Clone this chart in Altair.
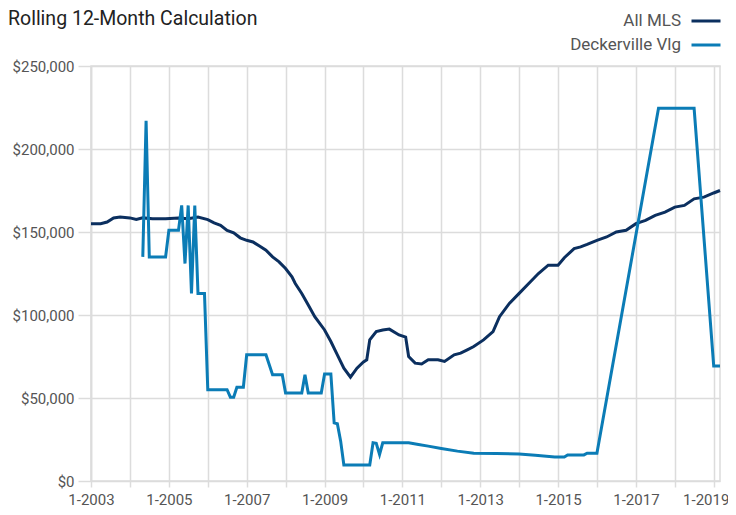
import altair as alt
import pandas as pd

# ---- data (values in dollars) ----
title_text = "Rolling 12-Month Calculation"

mls_dates = [
    "2003-01", "2003-04", "2003-06", "2003-08", "2003-10", "2004-01", "2004-03", "2004-05",
    "2004-08", "2004-12", "2005-04", "2005-07", "2005-10", "2006-01", "2006-03", "2006-05",
    "2006-07", "2006-09", "2006-11", "2007-01", "2007-03", "2007-05", "2007-07", "2007-09",
    "2007-11", "2008-01", "2008-03", "2008-04", "2008-06", "2008-08", "2008-10", "2009-01",
    "2009-03", "2009-05", "2009-07", "2009-09", "2009-11", "2010-01", "2010-02", "2010-03",
    "2010-05", "2010-07", "2010-09", "2010-12", "2011-02", "2011-03", "2011-05", "2011-07",
    "2011-09", "2011-12", "2012-02", "2012-05", "2012-07", "2012-09", "2012-11", "2013-02",
    "2013-05", "2013-07", "2013-10", "2014-01", "2014-04", "2014-07", "2014-10", "2015-01",
    "2015-03", "2015-06", "2015-08", "2015-10", "2016-01", "2016-04", "2016-07", "2016-10",
    "2017-01", "2017-04", "2017-07", "2017-10", "2018-01", "2018-04", "2018-07", "2018-10",
    "2019-01", "2019-03",
]
mls_values = [
    155000, 155000, 156000, 158500, 159000, 158500, 157500, 158500,
    158000, 158000, 158500, 158000, 159000, 157500, 155500, 154000,
    151000, 149500, 146500, 145000, 144000, 141500, 139000, 135000,
    132000, 128000, 123000, 119000, 113000, 106000, 99000, 91000,
    84000, 76000, 68000, 62600, 68000, 71700, 73000, 85000,
    90000, 91000, 91500, 88000, 86700, 75000, 71000, 70500,
    73000, 73000, 72000, 76000, 77000, 79000, 81000, 85000,
    90000, 99000, 107000, 113000, 119000, 125000, 130000, 130000,
    134500, 140000, 141000, 142500, 145000, 147000, 150000, 151000,
    155000, 157000, 160000, 162000, 165000, 166000, 170000, 171000,
    173500, 175000,
]

dv_dates = [
    "2004-05", "2004-06", "2004-07", "2004-12", "2005-01", "2005-04", "2005-05", "2005-06",
    "2005-07", "2005-08", "2005-09", "2005-10", "2005-12", "2006-01", "2006-07", "2006-08",
    "2006-09", "2006-10", "2006-12", "2007-01", "2007-07", "2007-09", "2007-12", "2008-01",
    "2008-06", "2008-07", "2008-08", "2008-12", "2009-01", "2009-03", "2009-04", "2009-05",
    "2009-06", "2009-07", "2010-03", "2010-04", "2010-05", "2010-06", "2010-07", "2011-03",
    "2011-06", "2011-09", "2012-01", "2012-06", "2012-11", "2013-06", "2014-01", "2014-06",
    "2014-12", "2015-03", "2015-04", "2015-09", "2015-10", "2016-01", "2017-08", "2018-07",
    "2019-01", "2019-03",
]
dv_values = [
    135000, 217000, 135000, 135000, 151000, 151000, 166000, 131000,
    166000, 113000, 166000, 113000, 113000, 55000, 55000, 50500,
    50500, 56500, 56500, 76000, 76000, 64000, 64000, 53000,
    53000, 64000, 53000, 53000, 64500, 64500, 35000, 34500,
    24000, 9600, 9600, 23000, 22700, 16000, 23000, 23000,
    22000, 21000, 19600, 18000, 16700, 16500, 16300, 15500,
    14500, 14500, 15700, 15700, 16700, 16700, 224500, 224500,
    69300, 69300,
]

series_names = ["All MLS", "Deckerville Vlg"]
series_colors = ["#0b2f5f", "#0b7cb6"]
y_ticks = [0, 50000, 100000, 150000, 200000, 250000]
x_ticks = [f"{y}-01-01" for y in range(2003, 2020)]

df = pd.concat([
    pd.DataFrame({"date": pd.to_datetime(mls_dates), "value": mls_values, "series": series_names[0]}),
    pd.DataFrame({"date": pd.to_datetime(dv_dates), "value": dv_values, "series": series_names[1]}),
])

FONT = "Roboto"

lines = alt.Chart(df).mark_line(strokeWidth=3, interpolate="linear").encode(
    x=alt.X(
        "date:T",
        title=None,
        scale=alt.Scale(domain=["2003-01-01", "2019-03-01"]),
        axis=alt.Axis(
            values=x_ticks,
            labelExpr="year(datum.value) % 2 == 1 ? '1-' + year(datum.value) : ''",
            grid=True,
            gridColor="#dcdcdc",
            gridWidth=1.5,
            domain=False,
            tickColor="#dcdcdc",
            tickWidth=1.5,
            tickSize=6,
            labelFontSize=15,
            labelColor="#555555",
            labelFont=FONT,
            labelPadding=5,
            labelOverlap=False,
            labelFlush=False,
            labelOffset={"condition": {"test": "year(datum.value) == 2019", "value": -8}, "value": 0},
        ),
    ),
    y=alt.Y(
        "value:Q",
        title=None,
        scale=alt.Scale(domain=[0, 250000]),
        axis=alt.Axis(
            values=y_ticks,
            format="$,.0f",
            grid=True,
            gridColor="#dcdcdc",
            gridWidth=1.5,
            domainColor="#dcdcdc",
            domainWidth=1.5,
            tickColor="#dcdcdc",
            tickWidth=1.5,
            tickSize=13,
            labelFontSize=15,
            labelColor="#555555",
            labelFont=FONT,
            labelPadding=4,
        ),
    ),
    color=alt.Color(
        "series:N",
        scale=alt.Scale(domain=series_names, range=series_colors),
        legend=alt.Legend(
            title=None,
            orient="none",
            legendX=599,
            legendY=-61,
            symbolType="stroke",
            symbolStrokeWidth=3,
            symbolSize=841,
            labelAlign="right",
            labelOffset={"expr": "-41"},
            labelFontSize=17,
            labelFont=FONT,
            labelColor="#555555",
            rowPadding={"expr": "-8"},
            padding=0,
        ),
    ),
)

title = alt.Chart(pd.DataFrame({"t": [title_text]})).mark_text(
    align="left",
    baseline="alphabetic",
    fontSize=19.5,
    font=FONT,
    color="#222222",
).encode(
    text="t:N",
    x=alt.value(-83),
    y=alt.value(-41),
)

chart = alt.layer(lines, title).properties(
    width=629,
    height=415,
    autosize=alt.AutoSizeParams(type="none"),
    padding={"left": 83, "top": 58, "right": 8, "bottom": 26},
).configure_view(
    stroke="#dcdcdc",
    strokeWidth=1.5,
)

chart.save("out.html", embed_options={"renderer": "svg", "actions": False})
